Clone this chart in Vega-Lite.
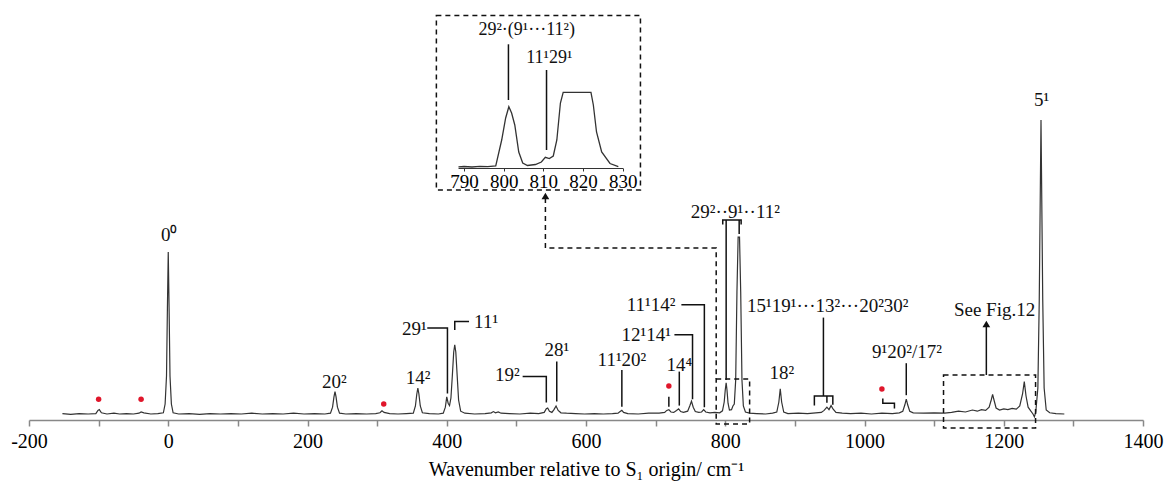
{
  "$schema": "https://vega.github.io/schema/vega-lite/v6.json",
  "width": 1114,
  "height": 400,
  "autosize": {"type": "none"},
  "padding": {"left": 29, "top": 20, "right": 24, "bottom": 71},
  "config": {"view": {"stroke": null}, "axis": {"grid": false}},
  "datasets": {
    "spec": [
      {"x":-152,"y":1.6},{"x":-140,"y":1.4},{"x":-128,"y":1.6},{"x":-115,"y":1.5},{"x":-104,"y":1.6},{"x":-101,"y":2.4},{"x":-99,"y":2.6},{"x":-96,"y":1.8},{"x":-88,"y":1.5},{"x":-78,"y":1.7},{"x":-70,"y":1.5},{"x":-60,"y":1.6},{"x":-50,"y":1.5},{"x":-42,"y":1.7},{"x":-39,"y":2.0},{"x":-35,"y":1.8},{"x":-25,"y":1.5},{"x":-15,"y":1.6},{"x":-7,"y":1.8},{"x":-4.5,"y":4},{"x":-2.5,"y":11},{"x":-1.2,"y":28},{"x":0,"y":42},{"x":1.2,"y":28},{"x":2.5,"y":11},{"x":4.5,"y":4},{"x":7,"y":1.8},{"x":15,"y":1.5},{"x":30,"y":1.6},{"x":45,"y":1.4},{"x":60,"y":1.6},{"x":75,"y":1.5},{"x":90,"y":1.6},{"x":105,"y":1.5},{"x":120,"y":1.7},{"x":135,"y":1.5},{"x":150,"y":1.6},{"x":165,"y":1.5},{"x":180,"y":1.7},{"x":195,"y":1.5},{"x":210,"y":1.6},{"x":225,"y":1.5},{"x":233,"y":1.7},{"x":236,"y":3.2},{"x":238,"y":5.8},{"x":239.5,"y":7.1},{"x":241,"y":5.8},{"x":243,"y":3.2},{"x":246,"y":1.7},{"x":255,"y":1.5},{"x":270,"y":1.6},{"x":285,"y":1.5},{"x":298,"y":1.6},{"x":304,"y":1.8},{"x":307,"y":2.3},{"x":310,"y":1.9},{"x":318,"y":1.6},{"x":330,"y":1.5},{"x":342,"y":1.6},{"x":352,"y":1.7},{"x":355,"y":3.5},{"x":357,"y":6.5},{"x":358.5,"y":8},{"x":360,"y":6.5},{"x":362,"y":3.5},{"x":365,"y":1.8},{"x":375,"y":1.6},{"x":388,"y":1.5},{"x":395,"y":1.7},{"x":398,"y":3.2},{"x":400,"y":5.8},{"x":402,"y":4.2},{"x":404,"y":3.6},{"x":406,"y":5.5},{"x":408,"y":11},{"x":410,"y":17},{"x":411.5,"y":18.8},{"x":413,"y":17},{"x":415,"y":11},{"x":417,"y":5},{"x":420,"y":2.2},{"x":426,"y":1.7},{"x":440,"y":1.5},{"x":455,"y":1.6},{"x":464,"y":1.8},{"x":467,"y":2.1},{"x":470,"y":1.8},{"x":474,"y":2.0},{"x":478,"y":1.7},{"x":490,"y":1.6},{"x":505,"y":1.5},{"x":520,"y":1.7},{"x":532,"y":1.6},{"x":540,"y":1.9},{"x":543,"y":2.8},{"x":545,"y":3.0},{"x":547.5,"y":2.2},{"x":551,"y":1.9},{"x":554,"y":2.6},{"x":557,"y":3.5},{"x":560,"y":2.4},{"x":564,"y":1.8},{"x":572,"y":1.7},{"x":585,"y":1.6},{"x":598,"y":1.5},{"x":612,"y":1.6},{"x":625,"y":1.5},{"x":638,"y":1.6},{"x":646,"y":1.7},{"x":649,"y":2.1},{"x":651.5,"y":2.4},{"x":654,"y":1.9},{"x":660,"y":1.6},{"x":675,"y":1.5},{"x":690,"y":1.7},{"x":705,"y":1.7},{"x":713,"y":1.9},{"x":716,"y":2.4},{"x":719,"y":2.6},{"x":722,"y":2.0},{"x":726,"y":1.9},{"x":730,"y":2.4},{"x":733,"y":2.8},{"x":736,"y":2.1},{"x":740,"y":1.9},{"x":746,"y":2.2},{"x":749,"y":3.5},{"x":751.5,"y":4.7},{"x":754,"y":3.2},{"x":757,"y":2.1},{"x":762,"y":1.9},{"x":766,"y":2.0},{"x":769,"y":2.6},{"x":772,"y":2.0},{"x":778,"y":1.8},{"x":785,"y":1.9},{"x":792,"y":1.8},{"x":796,"y":2.3},{"x":798.5,"y":4.5},{"x":800,"y":7.5},{"x":801.3,"y":9.3},{"x":802.5,"y":7.5},{"x":804,"y":4.2},{"x":806,"y":2.5},{"x":809,"y":2.6},{"x":811,"y":3.5},{"x":813,"y":4},{"x":815,"y":10},{"x":816.8,"y":32},{"x":818.5,"y":45.7},{"x":820.5,"y":45.7},{"x":822.2,"y":32},{"x":824,"y":10},{"x":826,"y":3.5},{"x":829,"y":2},{"x":835,"y":1.7},{"x":845,"y":1.6},{"x":858,"y":1.5},{"x":868,"y":1.7},{"x":874,"y":2.0},{"x":877,"y":4.5},{"x":879,"y":7.8},{"x":881,"y":4.5},{"x":884,"y":2.0},{"x":890,"y":1.6},{"x":905,"y":1.7},{"x":918,"y":1.6},{"x":930,"y":1.8},{"x":938,"y":1.9},{"x":942,"y":2.4},{"x":946,"y":3.2},{"x":949,"y":2.6},{"x":952,"y":3.6},{"x":955,"y":2.7},{"x":959,"y":1.9},{"x":968,"y":1.7},{"x":980,"y":1.6},{"x":995,"y":1.7},{"x":1010,"y":1.5},{"x":1025,"y":1.7},{"x":1040,"y":1.6},{"x":1050,"y":1.8},{"x":1055,"y":2.2},{"x":1058,"y":3.8},{"x":1060,"y":5.2},{"x":1062,"y":3.8},{"x":1065,"y":2.2},{"x":1070,"y":1.8},{"x":1085,"y":1.7},{"x":1100,"y":1.8},{"x":1115,"y":1.7},{"x":1125,"y":1.9},{"x":1135,"y":2.2},{"x":1145,"y":2.0},{"x":1155,"y":2.5},{"x":1162,"y":2.2},{"x":1168,"y":2.6},{"x":1174,"y":2.4},{"x":1179,"y":3.2},{"x":1182,"y":5},{"x":1184,"y":6.4},{"x":1186,"y":5},{"x":1189,"y":3},{"x":1194,"y":2.5},{"x":1200,"y":2.8},{"x":1206,"y":2.6},{"x":1212,"y":2.9},{"x":1218,"y":2.7},{"x":1223,"y":3.5},{"x":1227,"y":6.5},{"x":1229.5,"y":9.6},{"x":1232,"y":6},{"x":1235,"y":3.2},{"x":1239,"y":2.2},{"x":1242,"y":1.5},{"x":1244,"y":0.8},{"x":1246,"y":2},{"x":1249,"y":8},{"x":1251,"y":30},{"x":1253.5,"y":75},{"x":1256,"y":30},{"x":1258,"y":8},{"x":1261,"y":2.5},{"x":1266,"y":1.8},{"x":1275,"y":1.6},{"x":1287,"y":1.5}
    ],
    "inset": [
      {"x":788.6,"y":1.2},{"x":790,"y":1.5},{"x":792,"y":1.0},{"x":794,"y":1.6},{"x":796,"y":1.4},{"x":798,"y":2.2},{"x":799.5,"y":28},{"x":800.5,"y":50},{"x":801.3,"y":61.3},{"x":802,"y":55},{"x":802.8,"y":43},{"x":803.8,"y":16},{"x":804.8,"y":5},{"x":806,"y":2.5},{"x":808,"y":3.5},{"x":809.5,"y":6},{"x":810.5,"y":10.7},{"x":811.5,"y":9.5},{"x":812.5,"y":12},{"x":813.4,"y":28},{"x":814.3,"y":65},{"x":815,"y":75.7},{"x":822,"y":75.7},{"x":822.6,"y":63},{"x":823.4,"y":36},{"x":824.7,"y":16},{"x":826.8,"y":4.5},{"x":828.9,"y":1.3}
    ],
    "labels": [
      {"x":1.4,"y":46.2,"t":"0⁰"},
      {"x":238.5,"y":9.4,"t":"20²"},
      {"x":358.7,"y":10.6,"t":"14²"},
      {"x":353.4,"y":22.8,"t":"29¹"},
      {"x":456.5,"y":24.6,"t":"11¹"},
      {"x":487,"y":11.3,"t":"19²"},
      {"x":558.2,"y":17.5,"t":"28¹"},
      {"x":651.6,"y":15,"t":"11¹20²"},
      {"x":734.2,"y":13.8,"t":"14⁴"},
      {"x":686.4,"y":21.3,"t":"12¹14¹"},
      {"x":693.5,"y":28.8,"t":"11¹14²"},
      {"x":814.4,"y":52.1,"t":"29²··9¹··11²"},
      {"x":881.2,"y":11.7,"t":"18²"},
      {"x":947.3,"y":28.5,"t":"15¹19¹···13²···20²30²"},
      {"x":1061,"y":17.1,"t":"9¹20²/17²"},
      {"x":1186.8,"y":27.5,"t":"See Fig.12"},
      {"x":1254.3,"y":80,"t":"5¹"}
    ],
    "segs": [
      {"id":"a","o":1,"x":372,"y":23},{"id":"a","o":2,"x":401,"y":23},{"id":"a","o":3,"x":401,"y":6.6},
      {"id":"b","o":1,"x":411.5,"y":22.5},{"id":"b","o":2,"x":411.5,"y":24.6},{"id":"b","o":3,"x":432,"y":24.6},
      {"id":"c","o":1,"x":509,"y":10.9},{"id":"c","o":2,"x":543,"y":10.9},{"id":"c","o":3,"x":543,"y":4.4},
      {"id":"d","o":1,"x":558,"y":14.6},{"id":"d","o":2,"x":558,"y":4.6},
      {"id":"e","o":1,"x":651.5,"y":12.5},{"id":"e","o":2,"x":651.5,"y":3.3},
      {"id":"f","o":1,"x":734,"y":12.1},{"id":"f","o":2,"x":734,"y":3.6},
      {"id":"g","o":1,"x":719,"y":5.8},{"id":"g","o":2,"x":719,"y":3.3},
      {"id":"h","o":1,"x":727,"y":21.3},{"id":"h","o":2,"x":753,"y":21.3},{"id":"h","o":3,"x":753,"y":5.2},
      {"id":"i","o":1,"x":737,"y":28.8},{"id":"i","o":2,"x":770,"y":28.8},{"id":"i","o":3,"x":770,"y":3.2},
      {"id":"j","o":1,"x":796.4,"y":48.9},{"id":"j","o":2,"x":796.4,"y":50},{"id":"j","o":3,"x":822.8,"y":50},{"id":"j","o":4,"x":822.8,"y":48.9},
      {"id":"j1","o":1,"x":801.3,"y":50},{"id":"j1","o":2,"x":801.3,"y":10},
      {"id":"j2","o":1,"x":820,"y":50},{"id":"j2","o":2,"x":820,"y":46.5},
      {"id":"k","o":1,"x":941,"y":25.6},{"id":"k","o":2,"x":941,"y":6},
      {"id":"k1","o":1,"x":928,"y":3.6},{"id":"k1","o":2,"x":928,"y":6},{"id":"k1","o":3,"x":954.5,"y":6},{"id":"k1","o":4,"x":954.5,"y":3.8},
      {"id":"k2","o":1,"x":946,"y":6},{"id":"k2","o":2,"x":946,"y":4.3},
      {"id":"l","o":1,"x":1060,"y":14.2},{"id":"l","o":2,"x":1060,"y":6.2},
      {"id":"m","o":1,"x":1026.3,"y":5.4},{"id":"m","o":2,"x":1026.3,"y":4.2},{"id":"m","o":3,"x":1043,"y":4.2},{"id":"m","o":4,"x":1043,"y":2.9},
      {"id":"n","o":1,"x":1175,"y":11.25},{"id":"n","o":2,"x":1175,"y":23.5}
    ],
    "dsegs": [
      {"id":"c","o":1,"x":541.7,"y":55.5},{"id":"c","o":2,"x":541.7,"y":43},{"id":"c","o":3,"x":787,"y":43},{"id":"c","o":4,"x":787,"y":10.25}
    ],
    "boxes": [
      {"x":385.1,"x2":678.2,"y":57.5,"y2":101.1},
      {"x":787,"x2":835,"y":-1,"y2":10.25},
      {"x":1113.5,"x2":1245.7,"y":-2,"y2":11.25}
    ],
    "arrows": [{"x":1175,"y":24},{"x":541.7,"y":56}],
    "dots": [{"x":-100,"y":5.2},{"x":-39,"y":5.2},{"x":309.5,"y":4},{"x":719,"y":8.5},{"x":1025,"y":7.75}],
    "ilabels": [
      {"x":805.8,"y":138,"t":"29²·(9¹···11²)"},
      {"x":811.5,"y":110.3,"t":"11¹29¹"}
    ],
    "isegs": [
      {"id":"p","o":1,"x":801.2,"y":123.7},{"id":"p","o":2,"x":801.2,"y":68},
      {"id":"q","o":1,"x":810.8,"y":98},{"id":"q","o":2,"x":810.8,"y":18}
    ]
  },
  "layer": [
    {
      "data": {"name": "spec"},
      "mark": {"type": "line", "color": "#333", "strokeWidth": 1.2},
      "encoding": {
        "x": {"field": "x", "type": "quantitative", "scale": {"domain": [-200, 1400], "nice": false, "zero": false},
          "axis": {"orient": "bottom", "values": [-200,-100,0,100,200,300,400,500,600,700,800,900,1000,1100,1200,1300,1400],
            "labelExpr": "datum.value % 200 == 0 ? '' + datum.value : ''",
            "domainColor": "#888", "domainWidth": 1.5, "tickColor": "#888", "tickWidth": 1.5, "tickSize": 6,
            "labelFont": "Liberation Serif, Times New Roman, serif", "labelFontSize": 20, "labelColor": "#000", "labelPadding": 5, "labelFlush": false, "labelOverlap": false,
            "title": "Wavenumber relative to S₁ origin/ cm⁻¹", "titleFont": "Liberation Serif, Times New Roman, serif", "titleFontSize": 20, "titleFontWeight": "normal", "titleColor": "#000", "titlePadding": 8}},
        "y": {"field": "y", "type": "quantitative", "scale": {"domain": [0, 100], "nice": false, "zero": false}, "axis": null}
      }
    },
    {
      "data": {"name": "segs"},
      "mark": {"type": "line", "color": "#111", "strokeWidth": 1.5},
      "encoding": {
        "x": {"field": "x", "type": "quantitative", "scale": {"domain": [-200, 1400], "nice": false, "zero": false}, "axis": null},
        "y": {"field": "y", "type": "quantitative", "scale": {"domain": [0, 100], "nice": false, "zero": false}, "axis": null},
        "detail": {"field": "id"},
        "order": {"field": "o"}
      }
    },
    {
      "data": {"name": "dsegs"},
      "mark": {"type": "line", "color": "#111", "strokeWidth": 1.5, "strokeDash": [5, 4]},
      "encoding": {
        "x": {"field": "x", "type": "quantitative", "scale": {"domain": [-200, 1400], "nice": false, "zero": false}, "axis": null},
        "y": {"field": "y", "type": "quantitative", "scale": {"domain": [0, 100], "nice": false, "zero": false}, "axis": null},
        "detail": {"field": "id"},
        "order": {"field": "o"}
      }
    },
    {
      "data": {"name": "boxes"},
      "mark": {"type": "rect", "fill": "transparent", "stroke": "#111", "strokeWidth": 1.5, "strokeDash": [5, 4]},
      "encoding": {
        "x": {"field": "x", "type": "quantitative", "scale": {"domain": [-200, 1400], "nice": false, "zero": false}, "axis": null},
        "x2": {"field": "x2"},
        "y": {"field": "y", "type": "quantitative", "scale": {"domain": [0, 100], "nice": false, "zero": false}, "axis": null},
        "y2": {"field": "y2"}
      }
    },
    {
      "data": {"name": "arrows"},
      "mark": {"type": "point", "shape": "triangle-up", "filled": true, "color": "#111", "size": 60, "opacity": 1},
      "encoding": {
        "x": {"field": "x", "type": "quantitative", "scale": {"domain": [-200, 1400], "nice": false, "zero": false}, "axis": null},
        "y": {"field": "y", "type": "quantitative", "scale": {"domain": [0, 100], "nice": false, "zero": false}, "axis": null}
      }
    },
    {
      "data": {"name": "dots"},
      "mark": {"type": "circle", "color": "#e0162b", "size": 30, "opacity": 1},
      "encoding": {
        "x": {"field": "x", "type": "quantitative", "scale": {"domain": [-200, 1400], "nice": false, "zero": false}, "axis": null},
        "y": {"field": "y", "type": "quantitative", "scale": {"domain": [0, 100], "nice": false, "zero": false}, "axis": null}
      }
    },
    {
      "data": {"name": "labels"},
      "mark": {"type": "text", "font": "Liberation Serif, Times New Roman, serif", "fontSize": 19, "color": "#111", "baseline": "middle", "align": "center"},
      "encoding": {
        "x": {"field": "x", "type": "quantitative", "scale": {"domain": [-200, 1400], "nice": false, "zero": false}, "axis": null},
        "y": {"field": "y", "type": "quantitative", "scale": {"domain": [0, 100], "nice": false, "zero": false}, "axis": null},
        "text": {"field": "t"}
      }
    },
    {
      "data": {"name": "inset"},
      "mark": {"type": "line", "color": "#333", "strokeWidth": 1.3},
      "encoding": {
        "x": {"field": "x", "type": "quantitative", "scale": {"domain": [788.5, 830], "range": [429.05, 593.7], "nice": false, "zero": false},
          "axis": {"orient": "bottom", "offset": -252, "values": [790, 800, 810, 820, 830], "format": "d",
            "domainColor": "#333", "domainWidth": 1.2, "tickColor": "#333", "tickSize": 3,
            "labelFont": "Liberation Serif, Times New Roman, serif", "labelFontSize": 19, "labelColor": "#000", "labelPadding": 1, "labelFlush": false, "labelOverlap": false, "title": null}},
        "y": {"field": "y", "type": "quantitative", "scale": {"domain": [0, 100], "range": [148, 48], "nice": false, "zero": false}, "axis": null}
      }
    },
    {
      "data": {"name": "isegs"},
      "mark": {"type": "line", "color": "#111", "strokeWidth": 1.5},
      "encoding": {
        "x": {"field": "x", "type": "quantitative", "scale": {"domain": [788.5, 830], "range": [429.05, 593.7], "nice": false, "zero": false}, "axis": null},
        "y": {"field": "y", "type": "quantitative", "scale": {"domain": [0, 100], "range": [148, 48], "nice": false, "zero": false}, "axis": null},
        "detail": {"field": "id"},
        "order": {"field": "o"}
      }
    },
    {
      "data": {"name": "ilabels"},
      "mark": {"type": "text", "font": "Liberation Serif, Times New Roman, serif", "fontSize": 18, "color": "#111", "baseline": "middle", "align": "center"},
      "encoding": {
        "x": {"field": "x", "type": "quantitative", "scale": {"domain": [788.5, 830], "range": [429.05, 593.7], "nice": false, "zero": false}, "axis": null},
        "y": {"field": "y", "type": "quantitative", "scale": {"domain": [0, 100], "range": [148, 48], "nice": false, "zero": false}, "axis": null},
        "text": {"field": "t"}
      }
    }
  ],
  "resolve": {"scale": {"x": "independent", "y": "independent"}, "axis": {"x": "independent", "y": "independent"}}
}
